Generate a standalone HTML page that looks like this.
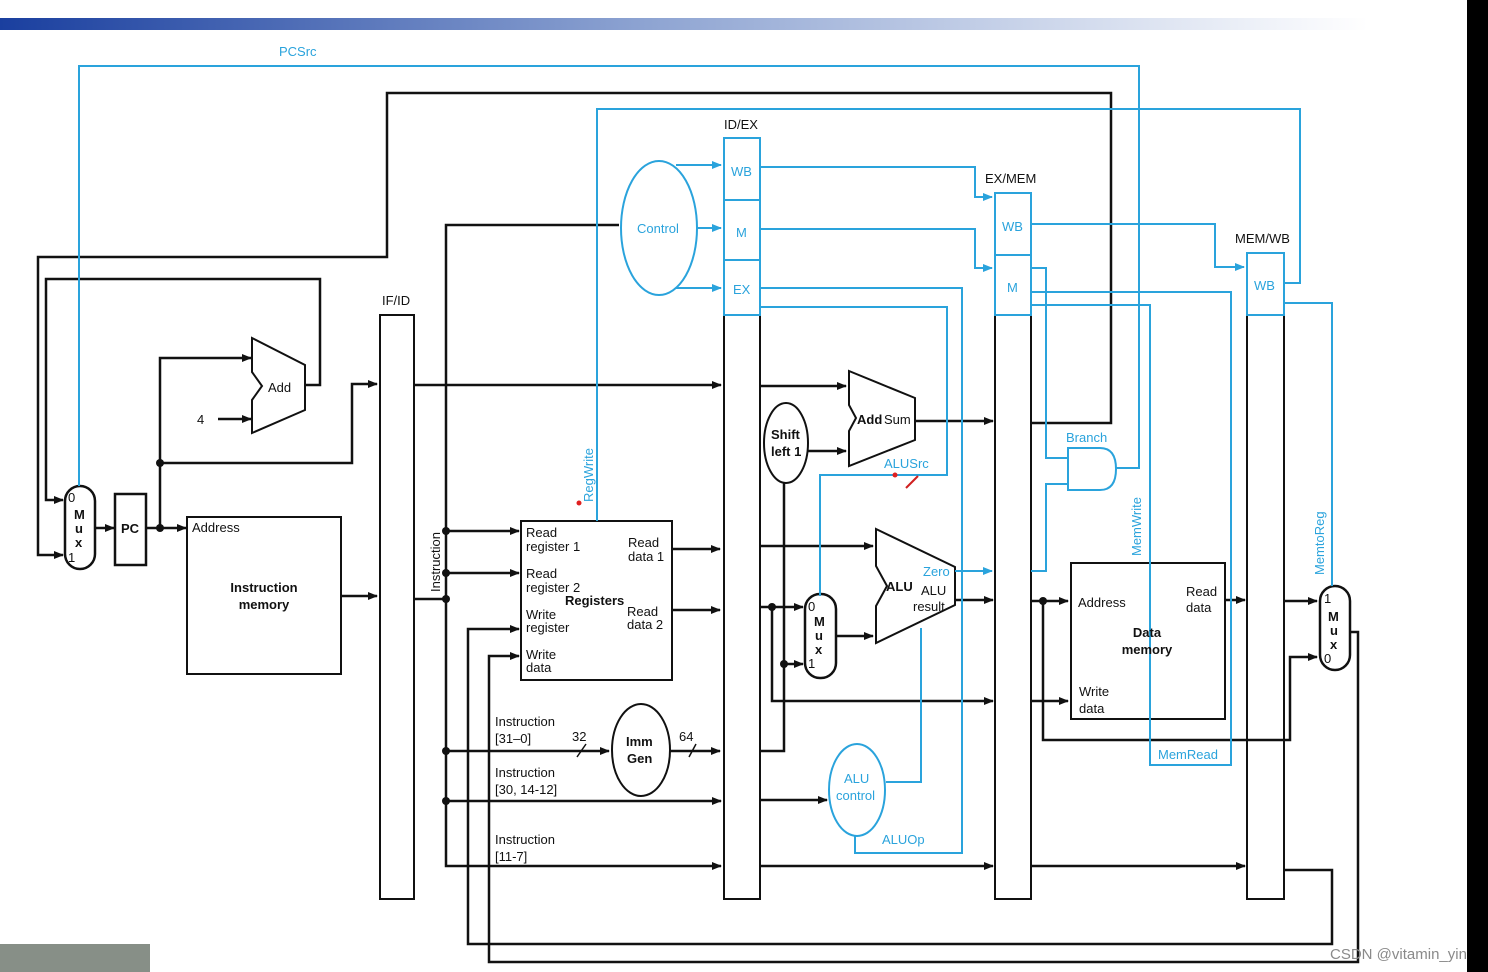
<!DOCTYPE html>
<html><head><meta charset="utf-8"><style>
html,body{margin:0;padding:0;background:#fff;}
svg{display:block;}
text{font-family:"Liberation Sans",sans-serif;font-size:13px;fill:#111;}
.b{fill:#2aa3dc;}
.bold{font-weight:bold;}
</style></head><body>
<svg width="1488" height="972" viewBox="0 0 1488 972" xmlns="http://www.w3.org/2000/svg">
<defs>
<linearGradient id="g" x1="0" x2="1"><stop offset="0" stop-color="#1a3f9f"/><stop offset="0.45" stop-color="#8ea4d2"/><stop offset="0.95" stop-color="#fff"/></linearGradient>
<marker id="a" markerWidth="10" markerHeight="8" refX="9" refY="4" orient="auto" markerUnits="userSpaceOnUse"><path d="M0,0 L10,4 L0,8 z" fill="#111"/></marker>
<marker id="ab" markerWidth="10" markerHeight="8" refX="9" refY="4" orient="auto" markerUnits="userSpaceOnUse"><path d="M0,0 L10,4 L0,8 z" fill="#2aa3dc"/></marker>
</defs>
<rect x="0" y="18" width="1440" height="12" fill="url(#g)"/>
<rect x="1467" y="0" width="21" height="972" fill="#000"/>
<rect x="0" y="944" width="150" height="28" fill="#878f87"/>

<g fill="none" stroke="#111" stroke-width="2.5">
<!-- top loop -->
<polyline points="1031,423 1111,423 1111,93 387,93 387,257 38,257 38,555 63,555" marker-end="url(#a)"/>
<polyline points="305,385 320,385 320,279 46,279 46,500 63,500" marker-end="url(#a)"/>
<line x1="95" y1="528" x2="114" y2="528" marker-end="url(#a)"/>
<rect x="115" y="494" width="31" height="71"/>
<line x1="146" y1="528" x2="186" y2="528" marker-end="url(#a)"/>
<polyline points="160,528 160,358 251,358" marker-end="url(#a)"/>
<polyline points="160,463 352,463 352,384 377,384" marker-end="url(#a)"/>
<line x1="218" y1="419" x2="251" y2="419" marker-end="url(#a)"/>
<polygon points="252,338 305,365 305,410 252,433 252,400 262,386 252,372" stroke-width="2"/>
<rect x="65" y="486" width="30" height="83" rx="15"/>
<rect x="187" y="517" width="154" height="157" stroke-width="2"/>
<line x1="341" y1="596" x2="377" y2="596" marker-end="url(#a)"/>
<rect x="380" y="315" width="34" height="584" stroke-width="2"/>
<line x1="414" y1="385" x2="721" y2="385" marker-end="url(#a)"/>
<polyline points="414,599 446,599"/>
<polyline points="619,225 446,225 446,866 721,866" marker-end="url(#a)"/>
<line x1="446" y1="531" x2="519" y2="531" marker-end="url(#a)"/>
<line x1="446" y1="573" x2="519" y2="573" marker-end="url(#a)"/>
<line x1="446" y1="751" x2="609" y2="751" marker-end="url(#a)"/>
<line x1="446" y1="801" x2="721" y2="801" marker-end="url(#a)"/>
<rect x="521" y="521" width="151" height="159" stroke-width="2"/>
<line x1="672" y1="549" x2="720" y2="549" marker-end="url(#a)"/>
<line x1="672" y1="610" x2="720" y2="610" marker-end="url(#a)"/>
<ellipse cx="641" cy="750" rx="29" ry="46" stroke-width="2"/>
<line x1="670" y1="751" x2="720" y2="751" marker-end="url(#a)"/>
<line x1="577" y1="757" x2="586" y2="744" stroke-width="1.5"/>
<line x1="689" y1="757" x2="696" y2="744" stroke-width="1.5"/>
<polyline points="1284,870 1332,870 1332,944 468,944 468,629 519,629" marker-end="url(#a)"/>
<polyline points="1350,632 1358,632 1358,962 489,962 489,656 519,656" marker-end="url(#a)"/>
<!-- ID/EX -->
<rect x="724" y="315" width="36" height="584" stroke-width="2"/>
<line x1="760" y1="386" x2="846" y2="386" marker-end="url(#a)"/>
<ellipse cx="786" cy="443" rx="22" ry="40" stroke-width="2"/>
<line x1="808" y1="451" x2="846" y2="451" marker-end="url(#a)"/>
<polygon points="849,371 915,398 915,440 849,466 849,431 856,418 849,405" stroke-width="2"/>
<line x1="915" y1="421" x2="993" y2="421" marker-end="url(#a)"/>
<line x1="760" y1="546" x2="873" y2="546" marker-end="url(#a)"/>
<line x1="760" y1="607" x2="803" y2="607" marker-end="url(#a)"/>
<polyline points="772,607 772,701 993,701" marker-end="url(#a)"/>
<polyline points="760,751 784,751 784,483"/>
<line x1="784" y1="664" x2="803" y2="664" marker-end="url(#a)"/>
<rect x="805" y="594" width="31" height="84" rx="15"/>
<line x1="836" y1="636" x2="873" y2="636" marker-end="url(#a)"/>
<polygon points="876,529 955,567 955,605 876,643 876,606 887,586 876,566" stroke-width="2"/>
<line x1="955" y1="600" x2="993" y2="600" marker-end="url(#a)"/>
<line x1="760" y1="800" x2="827" y2="800" marker-end="url(#a)"/>
<line x1="760" y1="866" x2="993" y2="866" marker-end="url(#a)"/>
<!-- EX/MEM -->
<rect x="995" y="315" width="36" height="584" stroke-width="2"/>
<line x1="1031" y1="601" x2="1068" y2="601" marker-end="url(#a)"/>
<polyline points="1043,601 1043,740 1290,740 1290,657 1317,657" marker-end="url(#a)"/>
<line x1="1031" y1="701" x2="1068" y2="701" marker-end="url(#a)"/>
<rect x="1071" y="563" width="154" height="156" stroke-width="2"/>
<line x1="1225" y1="600" x2="1245" y2="600" marker-end="url(#a)"/>
<line x1="1031" y1="866" x2="1245" y2="866" marker-end="url(#a)"/>
<rect x="1247" y="315" width="37" height="584" stroke-width="2"/>
<line x1="1284" y1="601" x2="1317" y2="601" marker-end="url(#a)"/>
<rect x="1320" y="586" width="30" height="84" rx="15"/>
</g>
<g fill="#111">
<circle cx="160" cy="528" r="4"/><circle cx="160" cy="463" r="4"/>
<circle cx="446" cy="531" r="4"/><circle cx="446" cy="573" r="4"/><circle cx="446" cy="599" r="4"/>
<circle cx="446" cy="751" r="4"/><circle cx="446" cy="801" r="4"/>
<circle cx="772" cy="607" r="4"/><circle cx="784" cy="664" r="4"/><circle cx="1043" cy="601" r="4"/>
</g>
<!-- blue -->
<g fill="none" stroke="#2aa3dc" stroke-width="2">
<polyline points="1116,468 1139,468 1139,66 79,66 79,486"/>
<polyline points="597,521 597,109 1300,109 1300,283 1284,283"/>
<ellipse cx="659" cy="228" rx="38" ry="67"/>
<line x1="676" y1="165" x2="721" y2="165" marker-end="url(#ab)"/>
<line x1="697" y1="228" x2="721" y2="228" marker-end="url(#ab)"/>
<line x1="676" y1="288" x2="721" y2="288" marker-end="url(#ab)"/>
<rect x="724" y="138" width="36" height="177"/><line x1="724" y1="200" x2="760" y2="200"/><line x1="724" y1="260" x2="760" y2="260"/>
<rect x="995" y="193" width="36" height="122"/><line x1="995" y1="255" x2="1031" y2="255"/>
<rect x="1247" y="253" width="37" height="62"/>
<polyline points="760,167 975,167 975,197 992,197" marker-end="url(#ab)"/>
<polyline points="760,229 975,229 975,268 992,268" marker-end="url(#ab)"/>
<polyline points="760,288 962,288 962,853 855,853 855,836"/>
<polyline points="760,307 947,307 947,475 820,475 820,596"/>
<ellipse cx="857" cy="790" rx="28" ry="46"/>
<polyline points="886,782 921,782 921,628"/>
<line x1="955" y1="571" x2="992" y2="571" marker-end="url(#ab)"/>
<polyline points="1031,224 1215,224 1215,267 1244,267" marker-end="url(#ab)"/>
<polyline points="1031,268 1046,268 1046,458 1068,458"/>
<polyline points="1031,571 1046,571 1046,484 1068,484"/>
<path d="M1068,448 L1100,448 Q1116,448 1116,469 Q1116,490 1100,490 L1068,490 Z"/>
<polyline points="1031,292 1231,292 1231,765 1150,765 1150,305 1031,305"/>
<polyline points="1284,303 1332,303 1332,586"/>
</g>
<circle cx="579" cy="503" r="2.5" fill="#e02020"/><circle cx="895" cy="475" r="2.5" fill="#e02020"/>
<line x1="906" y1="488" x2="918" y2="476" stroke="#d02020" stroke-width="2"/>

<text class="b" x="279" y="56">PCSrc</text>
<text x="197" y="424">4</text>
<text x="268" y="392">Add</text>
<text class="bold" x="121" y="533">PC</text>
<text x="68" y="502" font-size="12">0</text><text class="bold" x="74" y="519">M</text><text class="bold" x="75" y="533">u</text><text class="bold" x="75" y="547">x</text><text x="68" y="562" font-size="12">1</text>
<text x="192" y="532">Address</text>
<text class="bold" x="264" y="592" text-anchor="middle">Instruction</text>
<text class="bold" x="264" y="609" text-anchor="middle">memory</text>
<text x="382" y="305">IF/ID</text>
<text x="440" y="592" transform="rotate(-90 440 592)">Instruction</text>
<text class="b" x="593" y="502" transform="rotate(-90 593 502)">RegWrite</text>
<text class="b" x="637" y="233">Control</text>
<text x="724" y="129">ID/EX</text>
<text class="b" x="731" y="176">WB</text><text class="b" x="736" y="237">M</text><text class="b" x="733" y="294">EX</text>
<text x="526" y="537">Read</text><text x="526" y="551">register 1</text>
<text x="526" y="578">Read</text><text x="526" y="592">register 2</text>
<text class="bold" x="565" y="605">Registers</text>
<text x="526" y="619">Write</text><text x="526" y="632">register</text>
<text x="526" y="659">Write</text><text x="526" y="672">data</text>
<text x="628" y="547">Read</text><text x="628" y="561">data 1</text>
<text x="627" y="616">Read</text><text x="627" y="629">data 2</text>
<text x="495" y="726">Instruction</text><text x="495" y="743">[31–0]</text>
<text x="572" y="741">32</text><text x="679" y="741">64</text>
<text class="bold" x="626" y="746">Imm</text><text class="bold" x="627" y="763">Gen</text>
<text x="495" y="777">Instruction</text><text x="495" y="794">[30, 14-12]</text>
<text x="495" y="844">Instruction</text><text x="495" y="861">[11-7]</text>
<text class="bold" x="771" y="439">Shift</text><text class="bold" x="771" y="456">left 1</text>
<text class="bold" x="857" y="424">Add</text><text x="884" y="424">Sum</text>
<text class="b" x="884" y="468">ALUSrc</text>
<text class="bold" x="886" y="591">ALU</text>
<text class="b" x="923" y="576">Zero</text>
<text x="921" y="595">ALU</text><text x="913" y="611">result</text>
<text x="808" y="611" font-size="12">0</text><text class="bold" x="814" y="626">M</text><text class="bold" x="815" y="640">u</text><text class="bold" x="815" y="654">x</text><text x="808" y="668" font-size="12">1</text>
<text class="b" x="844" y="783">ALU</text><text class="b" x="836" y="800">control</text>
<text class="b" x="882" y="844">ALUOp</text>
<text x="985" y="183">EX/MEM</text>
<text class="b" x="1002" y="231">WB</text><text class="b" x="1007" y="292">M</text>
<text class="b" x="1066" y="442">Branch</text>
<text class="b" x="1141" y="556" transform="rotate(-90 1141 556)">MemWrite</text>
<text class="b" x="1158" y="759">MemRead</text>
<text x="1078" y="607">Address</text>
<text x="1186" y="596">Read</text><text x="1186" y="612">data</text>
<text class="bold" x="1147" y="637" text-anchor="middle">Data</text>
<text class="bold" x="1147" y="654" text-anchor="middle">memory</text>
<text x="1079" y="696">Write</text><text x="1079" y="713">data</text>
<text x="1235" y="243">MEM/WB</text>
<text class="b" x="1254" y="290">WB</text>
<text class="b" x="1324" y="575" transform="rotate(-90 1324 575)">MemtoReg</text>
<text x="1324" y="603" font-size="12">1</text><text class="bold" x="1328" y="621">M</text><text class="bold" x="1330" y="635">u</text><text class="bold" x="1330" y="649">x</text><text x="1324" y="663" font-size="12">0</text>
<text x="1330" y="959" fill="#888" style="fill:#8a8a8a;font-size:15px">CSDN @vitamin_yin</text>
</svg>
</body></html>
